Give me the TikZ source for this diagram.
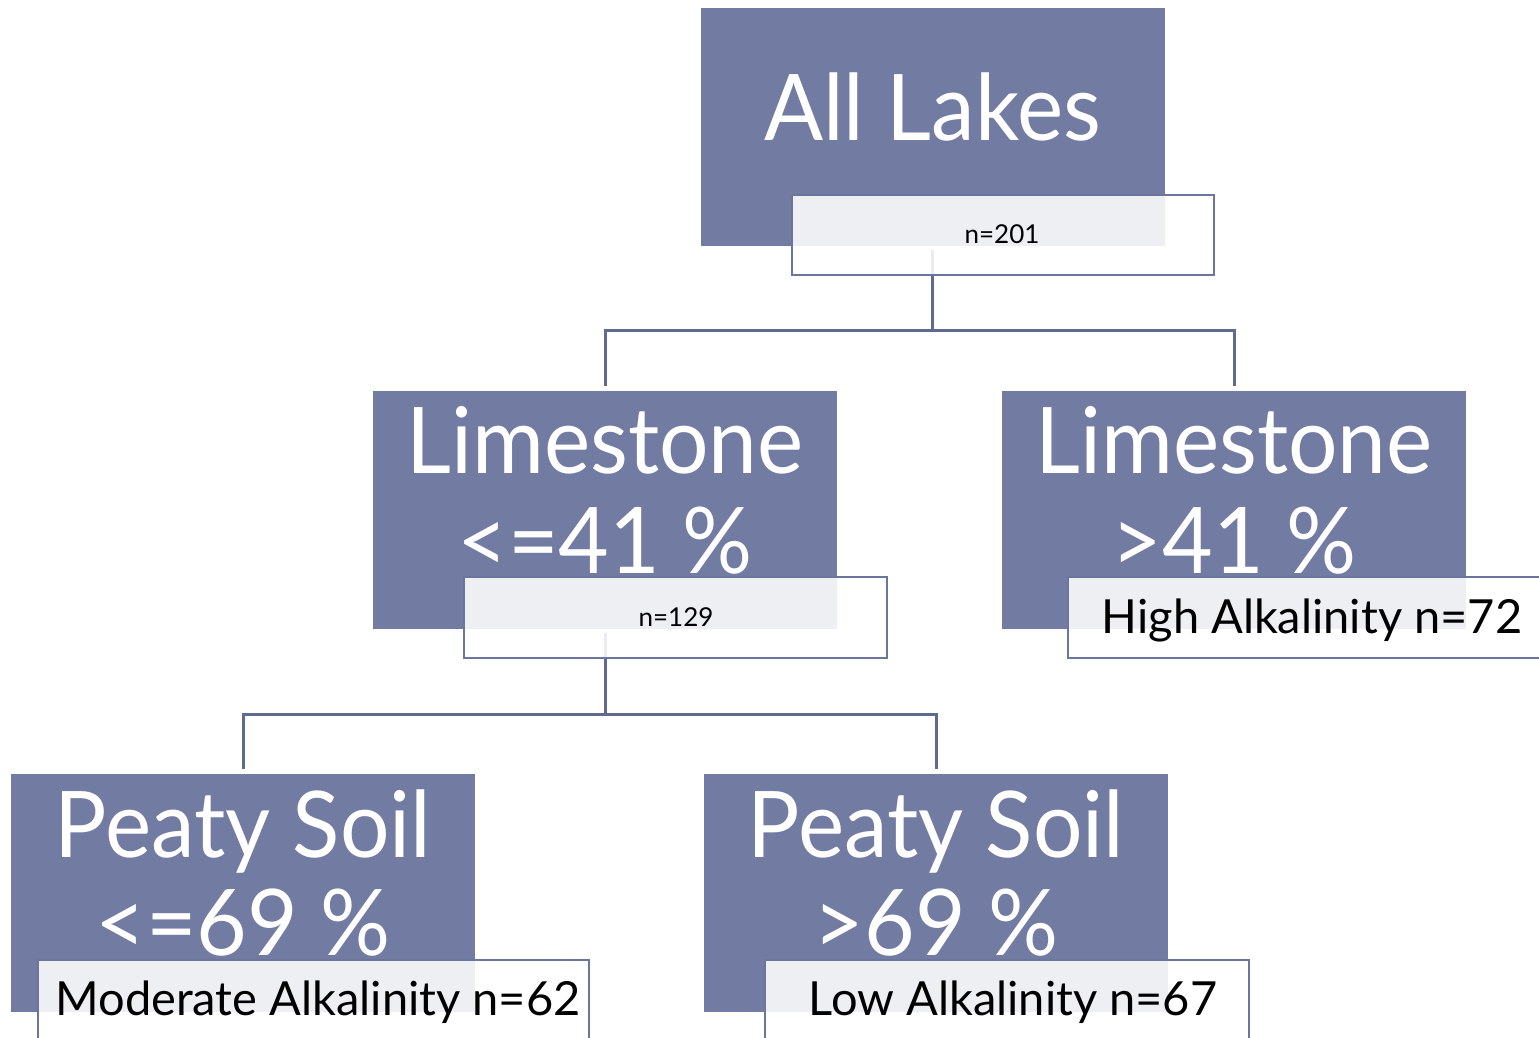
\documentclass[tikz,border=0pt]{standalone}
\usepackage{fontspec}
\setmainfont{Lato}
\newfontfamily\narrowlato[FakeStretch=0.95]{Lato}
\definecolor{boxfill}{HTML}{727CA3}
\definecolor{boxedge}{HTML}{6C769C}
\definecolor{linkcol}{HTML}{5F6A92}
\begin{document}
\begin{tikzpicture}[x=1pt,y=-1pt,
  bigbox/.style={fill=boxfill,draw=none,inner sep=0,minimum width=464pt,minimum height=238pt},
  tagbox/.style={draw=boxedge,line width=2.5pt,fill=white,fill opacity=0.88,inner sep=0,minimum height=80pt},
  bigtext/.style={text=white,anchor=base,inner sep=0,font=\narrowlato\fontsize{92}{100}\selectfont},
  smalltext/.style={text=black,anchor=base,inner sep=0,font=\fontsize{26}{30}\selectfont},
  midtext/.style={text=black,anchor=base,inner sep=0,font=\fontsize{47}{52}\selectfont},
  link/.style={draw=linkcol,line width=3pt,shorten <=4pt,shorten >=4pt}]
\useasboundingbox (0,0) rectangle (1539,1038);
% boxes
\node[bigbox] (top) at (932.5,127) {};
\node[bigbox] (lim1) at (605,509.5) {};
\node[bigbox] (lim2) at (1234,509.5) {};
\node[bigbox] (peat1) at (243,892.5) {};
\node[bigbox] (peat2) at (936,892.5) {};
% connectors
\coordinate (b1) at (932.5,330);
\coordinate (b2) at (605,714);
\draw[link] (top.south) -- (b1) -| (lim1.north);
\draw[link,shorten <=0pt] (b1) -| (lim2.north);
\draw[link] (lim1.south) -- (b2) -| (peat1.north);
\draw[link,shorten <=0pt] (b2) -| (peat2.north);
% tag boxes
\node[tagbox,minimum width=422pt] (tagtop) at (1003,235) {};
\node[tagbox,minimum width=423pt,minimum height=81pt] (taglim1) at (675.5,617.5) {};
\node[tagbox,minimum width=488pt,minimum height=81pt] (taglim2) at (1312,617.5) {};
\node[tagbox,minimum width=551pt] (tagpeat1) at (313.5,1000) {};
\node[tagbox,minimum width=484pt] (tagpeat2) at (1007,1000) {};
% texts
\node[bigtext] (ttop) at (932.5,140) {All Lakes};
\node[bigtext] (tlim1a) at (605,473) {Limestone};
\node[bigtext] (tlim1b) at (605,573) {<=41 \%};
\node[bigtext] (tlim2a) at (1234,473) {Limestone};
\node[bigtext] (tlim2b) at (1234,573) {>41 \%};
\node[bigtext] (tpeat1a) at (243,857) {Peaty Soil};
\node[bigtext] (tpeat1b) at (243,955) {<=69 \%};
\node[bigtext] (tpeat2a) at (936,857) {Peaty Soil};
\node[bigtext] (tpeat2b) at (936,955) {>69 \%};
\node[smalltext] (ntop) at (1002,243) {n=201};
\node[smalltext] (nlim1) at (676,626) {n=129};
\node[midtext] (nlim2) at (1312,633) {High Alkalinity n=72};
\node[midtext] (npeat1) at (318,1015) {Moderate Alkalinity n=62};
\node[midtext] (npeat2) at (1013,1015) {Low Alkalinity n=67};
\end{tikzpicture}
\end{document}
